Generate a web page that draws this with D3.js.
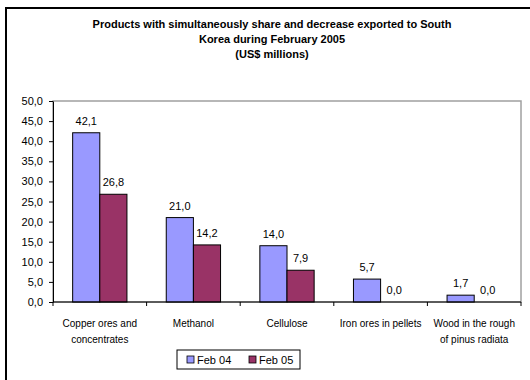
<!DOCTYPE html>
<html>
<head>
<meta charset="utf-8">
<script src="https://cdn.jsdelivr.net/npm/d3@7"></script>
<style>
  body { margin: 0; background: #fff; }
  text { font-family: Arial, "Liberation Sans", sans-serif; }
</style>
</head>
<body>
<div id="chart"></div>
<script>
var categories = [["Copper ores and", "concentrates"], ["Methanol"], ["Cellulose"], ["Iron ores in pellets"], ["Wood in the rough", "of pinus radiata"]];
var seriesNames = ["Feb 04", "Feb 05"];
var feb04 = [42.1, 21.0, 14.0, 5.7, 1.7];
var feb05 = [26.8, 14.2, 7.9, 0.0, 0.0];
var yTicks = [0, 5, 10, 15, 20, 25, 30, 35, 40, 45, 50];
var colors = ["#9999ff", "#993366"];
var titleLines = ["Products with simultaneously share and decrease exported to South", "Korea during February 2005", "(US$ millions)"];

var w = 530, h = 380;
var svg = d3.select("#chart").append("svg").attr("width", w).attr("height", h);

// outer frame (runs off the right and bottom edges)
svg.append("rect").attr("x", 6).attr("y", 8).attr("width", 540).attr("height", 390)
  .attr("fill", "none").attr("stroke", "#000").attr("stroke-width", 2);

svg.selectAll(".title").data(titleLines).enter().append("text")
  .attr("x", 272).attr("y", function(d, i) { return 28 + i * 15; })
  .attr("text-anchor", "middle").attr("font-size", 11).attr("font-weight", "bold")
  .text(function(d) { return d; });

var plotL = 53, plotR = 521, plotT = 101, plotB = 302;
var fmt = function(v) { return v.toFixed(1).replace(".", ","); };

var x0 = d3.scaleBand().domain(d3.range(categories.length)).range([plotL, plotR]).paddingInner(0).paddingOuter(0);
var y = d3.scaleLinear().domain([0, 50]).range([plotB, plotT]);
var groupW = x0.bandwidth() * 0.58;
var x1 = d3.scaleBand().domain([0, 1]).range([0, groupW]);

// plot area border
svg.append("rect").attr("x", plotL).attr("y", plotT).attr("width", plotR - plotL).attr("height", plotB - plotT)
  .attr("fill", "none").attr("stroke", "#a0a0a0").attr("stroke-width", 1.5);

var g = svg.append("g");
[feb04, feb05].forEach(function(vals, s) {
  g.selectAll(".bar" + s).data(vals).enter().append("rect")
    .attr("x", function(d, i) { return x0(i) + (x0.bandwidth() - groupW) / 2 + x1(s); })
    .attr("y", function(d) { return y(d); })
    .attr("width", x1.bandwidth())
    .attr("height", function(d) { return plotB - y(d); })
    .attr("fill", colors[s]).attr("stroke", "#000").attr("stroke-width", 1)
    .attr("stroke-opacity", function(d) { return d > 0 ? 1 : 0; });
  g.selectAll(".lbl" + s).data(vals).enter().append("text")
    .attr("x", function(d, i) { return x0(i) + (x0.bandwidth() - groupW) / 2 + x1(s) + x1.bandwidth() / 2; })
    .attr("y", function(d) { return y(d) - 8; })
    .attr("text-anchor", "middle").attr("font-size", 11)
    .text(fmt);
});

// y axis
var yAxis = svg.append("g").attr("transform", "translate(" + plotL + ",0)")
  .call(d3.axisLeft(y).tickValues(yTicks).tickSize(4).tickSizeOuter(0).tickFormat(fmt));
yAxis.selectAll("text").attr("font-size", 11).attr("fill", "#000").attr("dx", -3);
yAxis.select(".domain").attr("stroke", "#000");

// x axis
var xAxis = svg.append("g");
xAxis.append("line").attr("x1", plotL).attr("x2", plotR).attr("y1", plotB).attr("y2", plotB).attr("stroke", "#000");
xAxis.selectAll(".xt").data(d3.range(categories.length + 1)).enter().append("line")
  .attr("x1", function(i) { return plotL + i * x0.bandwidth(); })
  .attr("x2", function(i) { return plotL + i * x0.bandwidth(); })
  .attr("y1", plotB).attr("y2", plotB + 4).attr("stroke", "#000");
categories.forEach(function(lines, i) {
  lines.forEach(function(t, j) {
    xAxis.append("text").attr("x", x0(i) + x0.bandwidth() / 2).attr("y", plotB + 25 + j * 16)
      .attr("text-anchor", "middle").attr("font-size", 10).text(t);
  });
});

// legend
var lg = svg.append("g").attr("transform", "translate(177,350)");
lg.append("rect").attr("width", 123).attr("height", 19).attr("fill", "#fff").attr("stroke", "#000");
seriesNames.forEach(function(n, i) {
  lg.append("rect").attr("x", 10 + i * 62).attr("y", 6).attr("width", 7).attr("height", 7)
    .attr("fill", colors[i]).attr("stroke", "#000").attr("stroke-width", 0.8);
  lg.append("text").attr("x", 20 + i * 62).attr("y", 14).attr("font-size", 11).text(n);
});
</script>
</body>
</html>
